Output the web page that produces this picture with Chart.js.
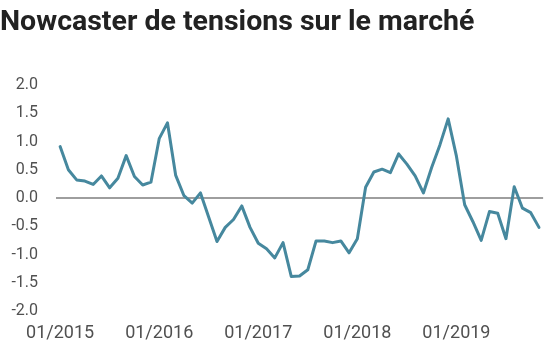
<!DOCTYPE html>
<html>
<head>
<meta charset="utf-8">
<script src="https://cdn.jsdelivr.net/npm/chart.js@4/dist/chart.umd.min.js"></script>
<style>
html,body{margin:0;padding:0;background:#fff;}
#wrap{position:relative;width:551px;height:355px;}
</style>
</head>
<body>
<div id="wrap"><canvas id="c" width="551" height="355"></canvas></div>
<script>
const titleText = 'Nowcaster de tensions sur le marché';
const years = ['2015','2016','2017','2018','2019'];
const months = ['01','02','03','04','05','06','07','08','09','10','11','12'];
const values2015 = [0.91, 0.50, 0.32, 0.30, 0.24, 0.39, 0.18, 0.35, 0.75, 0.38, 0.23, 0.28];
const values2016 = [1.05, 1.33, 0.40, 0.04, -0.09, 0.09, -0.34, -0.77, -0.52, -0.38, -0.14, -0.52];
const values2017 = [-0.80, -0.90, -1.06, -0.79, -1.39, -1.38, -1.27, -0.76, -0.76, -0.79, -0.76, -0.97];
const values2018 = [-0.72, 0.19, 0.46, 0.51, 0.45, 0.78, 0.60, 0.39, 0.09, 0.54, 0.94, 1.40];
const values2019 = [0.74, -0.12, -0.42, -0.75, -0.24, -0.27, -0.72, 0.20, -0.18, -0.26, -0.52];
const yTicks = [2.0, 1.5, 1.0, 0.5, 0.0, -0.5, -1.0, -1.5, -2.0];

const seriesByYear = [values2015, values2016, values2017, values2018, values2019];
const labels = [];
const values = [];
seriesByYear.forEach((arr, yi) => {
  arr.forEach((v, mi) => {
    labels.push(months[mi] + '/' + years[yi]);
    values.push(v);
  });
});

new Chart(document.getElementById('c'), {
  type: 'line',
  data: {
    labels: labels,
    datasets: [{
      data: values,
      borderColor: '#46889e',
      borderWidth: 3,
      pointRadius: 0,
      pointHoverRadius: 0,
      tension: 0,
      fill: false,
      borderJoinStyle: 'round',
      borderCapStyle: 'round'
    }]
  },
  options: {
    responsive: false,
    animation: false,
    devicePixelRatio: 1,
    layout: { padding: { left: 0, right: 2, top: 0, bottom: 0 } },
    plugins: {
      legend: { display: false },
      tooltip: { enabled: false },
      title: {
        display: true,
        text: titleText,
        align: 'start',
        color: '#222222',
        font: { family: 'Roboto', size: 28.5, weight: 'bold' },
        padding: { top: 5.4, bottom: 45.4 }
      }
    },
    scales: {
      x: {
        type: 'category',
        offset: true,
        grid: { display: false, drawTicks: false },
        border: { display: false },
        ticks: {
          autoSkip: false,
          maxRotation: 0,
          color: '#505050',
          padding: 12,
          font: { family: 'Roboto', size: 18 },
          callback: function(val, idx) {
            const l = this.getLabelForValue(val);
            return l.startsWith('01/') ? l : '';
          }
        },
        afterFit: function(scale) { scale.height = 44; }
      },
      y: {
        min: -2,
        max: 2,
        afterBuildTicks: function(scale) { scale.ticks = yTicks.map(v => ({ value: v })); },
        grid: {
          drawTicks: false,
          color: ctx => (ctx.tick && ctx.tick.value === 0) ? '#9e9e9e' : 'rgba(0,0,0,0)',
          lineWidth: ctx => (ctx.tick && ctx.tick.value === 0) ? 2 : 0
        },
        border: { display: false },
        ticks: {
          color: '#505050',
          padding: 18,
          font: { family: 'Roboto', size: 16 },
          callback: v => Number(v).toFixed(1)
        },
        afterFit: function(scale) { scale.width = 56; }
      }
    }
  }
});
</script>
</body>
</html>
